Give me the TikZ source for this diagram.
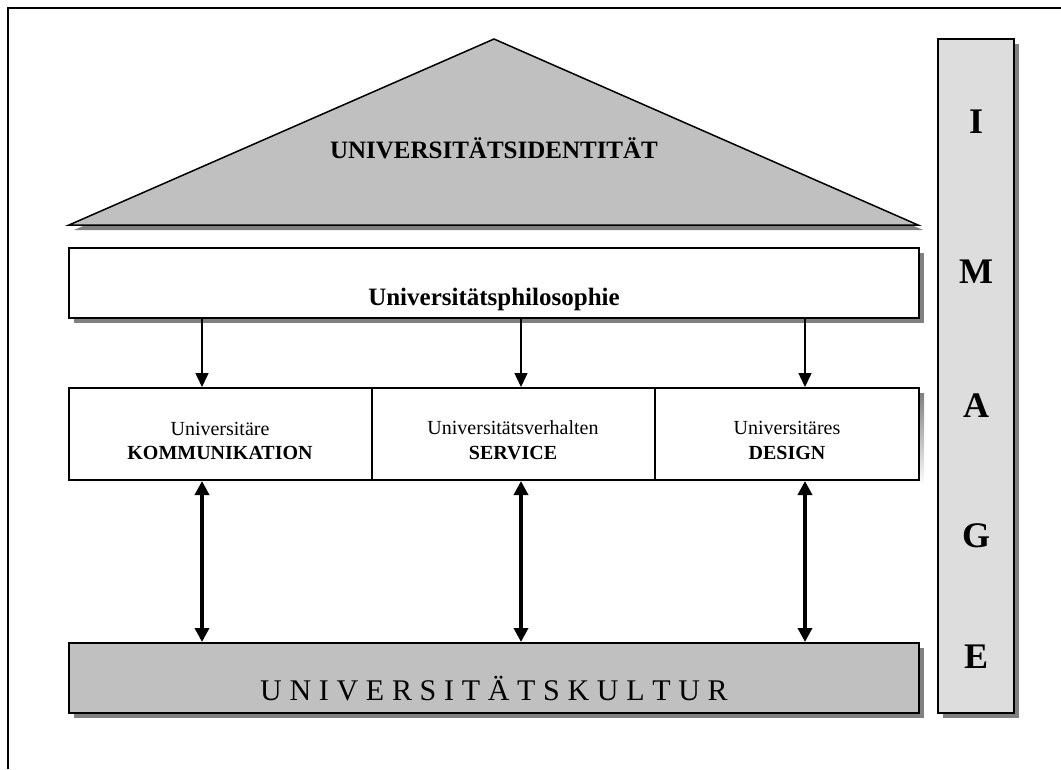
\documentclass[tikz,border=0pt]{standalone}
\usepackage{fontspec}
\setmainfont{Liberation Serif}
\usetikzlibrary{arrows.meta,shadows}
\definecolor{silver}{RGB}{192,192,192}
\definecolor{barfill}{RGB}{221,221,221}
\definecolor{shade}{RGB}{128,128,128}
\newcommand{\ks}{\kern7.7pt }
\begin{document}
\begin{tikzpicture}[x=1pt,y=-1pt,
  shadowed/.style={drop shadow={shadow xshift=5pt,shadow yshift=-5pt,fill=shade,opacity=1}},
  box/.style={draw=black,line width=2pt,inner sep=0pt,shadowed},
  plain/.style={draw=black,line width=2pt,inner sep=0pt,fill=white},
  lbl/.style={anchor=base,inner sep=0pt},
  single/.style={line width=1.5pt,-{Triangle[width=13pt,length=14pt]}},
  dbl/.style={line width=3.5pt,{Triangle[width=14pt,length=14pt]}-{Triangle[width=14pt,length=14pt]}}
]
\useasboundingbox (0,0) rectangle (1061,769);
% outer frame
\draw[line width=2pt] (8,769) -- (8,8) -- (1061,8);

% roof
\draw[fill=silver,line width=1.5pt,shadowed] (69,225) -- (494,39) -- (918,225) -- cycle;
\node[lbl,font=\fontsize{25}{30}\selectfont\bfseries] (ident) at (494,158) {UNIVERSITÄTSIDENTITÄT};

% philosophy
\node[box,fill=white,minimum width=850pt,minimum height=70pt] (phil) at (494,283) {};
\node[lbl,font=\fontsize{25}{30}\selectfont\bfseries] (philt) at (494,305) {Universitätsphilosophie};

% middle row
\fill[shade] (74,393) rectangle (924,485);
\node[plain,minimum width=303pt,minimum height=92pt] (kom) at (220.5,434) {};
\node[plain,minimum width=283pt,minimum height=92pt] (serv) at (513.5,434) {};
\node[plain,minimum width=264pt,minimum height=92pt] (des) at (787,434) {};
\node[lbl,font=\fontsize{20}{24}\selectfont] (koma) at (220,435) {Universitäre};
\node[lbl,font=\fontsize{20}{24}\selectfont\bfseries] (komb) at (220,459) {KOMMUNIKATION};
\node[lbl,font=\fontsize{20}{24}\selectfont] (serva) at (513,434) {Universitätsverhalten};
\node[lbl,font=\fontsize{20}{24}\selectfont\bfseries] (servb) at (513,459) {SERVICE};
\node[lbl,font=\fontsize{20}{24}\selectfont] (desa) at (787,434) {Universitäres};
\node[lbl,font=\fontsize{20}{24}\selectfont\bfseries] (desb) at (787,459) {DESIGN};

% culture
\node[box,fill=silver,minimum width=850pt,minimum height=70pt] (kul) at (494,678) {};
\node[lbl,font=\fontsize{30}{36}\selectfont] (kult) at (494,700)
  {U\ks N\ks I\ks V\ks E\ks R\ks S\ks I\ks T\ks Ä\ks T\ks S\ks K\ks U\ks L\ks T\ks U\ks R};

% image bar
\node[box,fill=barfill,minimum width=76pt,minimum height=674pt] (img) at (976,376) {};
\node[lbl,font=\fontsize{36}{40}\selectfont\bfseries] (li) at (976,133) {I};
\node[lbl,font=\fontsize{36}{40}\selectfont\bfseries] (lm) at (976,283) {M};
\node[lbl,font=\fontsize{36}{40}\selectfont\bfseries] (la) at (976,417) {A};
\node[lbl,font=\fontsize{36}{40}\selectfont\bfseries] (lg) at (976,547) {G};
\node[lbl,font=\fontsize{36}{40}\selectfont\bfseries] (le) at (976,668) {E};

% arrows
\coordinate (ax1) at (202,0);
\coordinate (ax2) at (521,0);
\coordinate (ax3) at (805,0);
\draw[single] (phil.south -| ax1) -- (kom.north -| ax1);
\draw[single] (phil.south -| ax2) -- (serv.north -| ax2);
\draw[single] (phil.south -| ax3) -- (des.north -| ax3);
\draw[dbl] (kom.south -| ax1) -- (kul.north -| ax1);
\draw[dbl] (serv.south -| ax2) -- (kul.north -| ax2);
\draw[dbl] (des.south -| ax3) -- (kul.north -| ax3);
\end{tikzpicture}
\end{document}
